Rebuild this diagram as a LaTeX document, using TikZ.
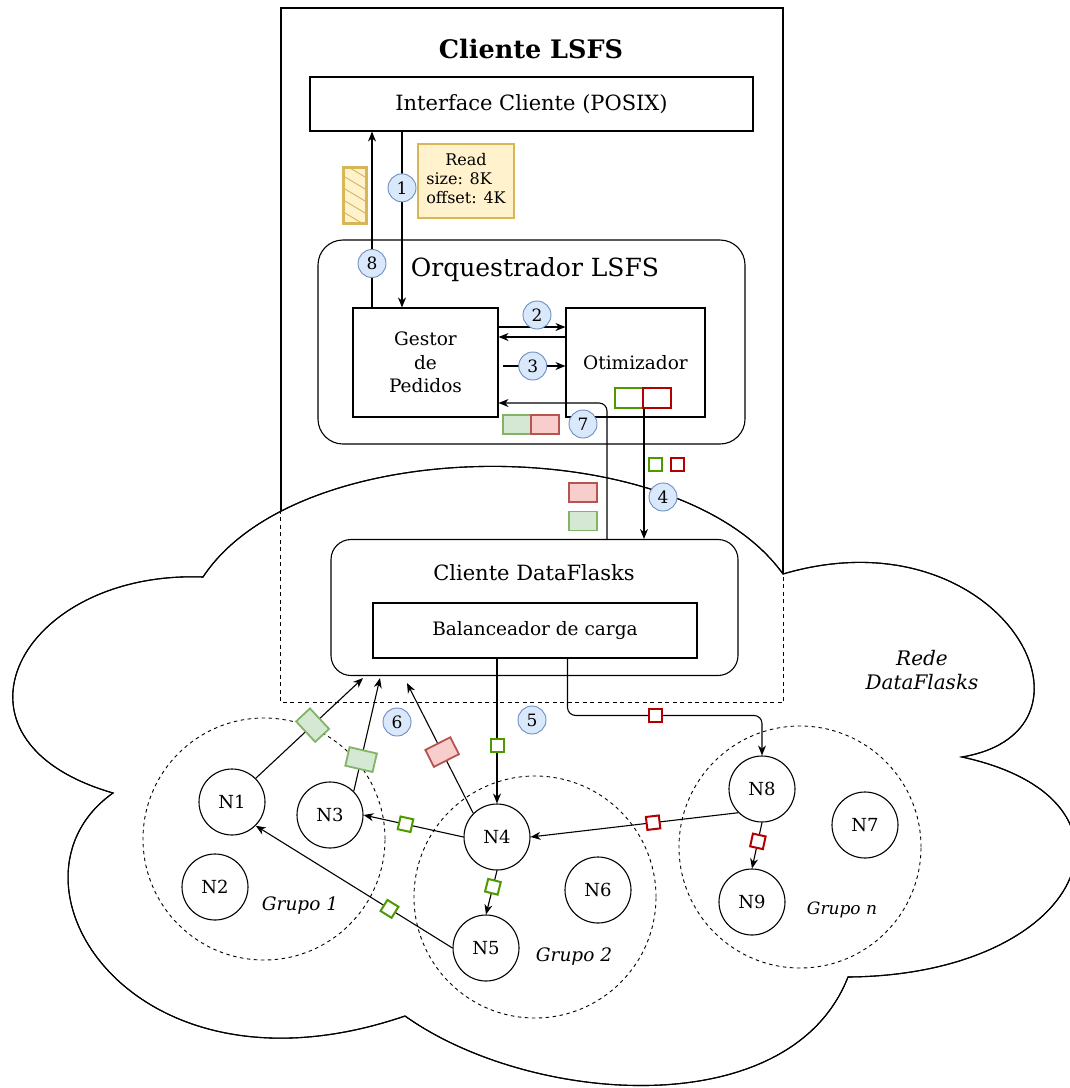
\documentclass[tikz,border=0pt]{standalone}
\usepackage{fontspec}
\setmainfont{DejaVu Serif}
\usetikzlibrary{arrows.meta,calc}

\definecolor{numfill}{HTML}{DAE8FC}
\definecolor{numdraw}{HTML}{6C8EBF}
\definecolor{notefill}{HTML}{FFF2CC}
\definecolor{notedraw}{HTML}{D6B656}
\definecolor{okline}{HTML}{4D9900}
\definecolor{errline}{HTML}{B20000}
\definecolor{okfill}{HTML}{D5E8D4}
\definecolor{okdraw}{HTML}{82B366}
\definecolor{errfill}{HTML}{F8CECC}
\definecolor{errdraw}{HTML}{B85450}

% outline of the DataFlasks network cloud
\def\cloudpath{(783,574) .. controls (680,430) and (300,430) .. (203,577)
  .. controls (20,570) and (-70,740) .. (113,793)
  .. controls (-10,880) and (130,1110) .. (405,1016)
  .. controls (530,1105) and (790,1125) .. (848,977)
  .. controls (1085,975) and (1160,800) .. (962,757)
  .. controls (1120,730) and (1000,510) .. (783,574) -- cycle}

\tikzset{
  box/.style={draw, line width=1.1pt, fill=white, inner sep=0pt},
  txt/.style={inner sep=0pt, font=\fontsize{21}{23.5}\selectfont},
  midtxt/.style={inner sep=0pt, font=\fontsize{18.5}{23.5}\selectfont},
  num/.style={circle, draw=numdraw, fill=numfill, line width=0.9pt, inner sep=0pt,
              minimum size=28pt, font=\fontsize{17}{17}\selectfont},
  pc/.style={circle, draw, line width=1.1pt, fill=white, inner sep=0pt,
             minimum size=66pt, font=\fontsize{18}{18}\selectfont},
  grp/.style={circle, draw, line width=0.9pt, dash pattern=on 3.5pt off 3.5pt,
              inner sep=0pt, minimum size=242pt},
  grplabel/.style={inner sep=0pt, font=\itshape\fontsize{18.5}{18.5}\selectfont},
  okbox/.style={draw=okline, line width=2pt, fill=white, inner sep=0pt, sharp corners,
                minimum width=13pt, minimum height=13pt},
  errbox/.style={draw=errline, line width=2pt, fill=white, inner sep=0pt, sharp corners,
                 minimum width=13pt, minimum height=13pt},
  okchunk/.style={draw=okdraw, fill=okfill, line width=1.8pt, inner sep=0pt, sharp corners,
                  minimum width=28pt, minimum height=19pt},
  errchunk/.style={draw=errdraw, fill=errfill, line width=1.8pt, inner sep=0pt, sharp corners,
                   minimum width=28pt, minimum height=19pt},
  across/.style={minimum width=19pt, minimum height=28pt},
  okbar/.style={draw=okline, line width=2pt, fill=white, inner sep=0pt,
                minimum width=28pt, minimum height=20pt},
  errbar/.style={draw=errline, line width=2pt, fill=white, inner sep=0pt,
                 minimum width=28pt, minimum height=20pt},
  arr/.style={-{Stealth[length=10pt,width=8pt]}, line width=1.1pt}
}

\begin{document}
\begin{tikzpicture}[x=1pt,y=-1pt]
\useasboundingbox (0,0) rectangle (1070,1088);

% outer client frame (solid outside the network cloud, dashed inside it)
\node[draw, line width=1.1pt, inner sep=0pt, minimum width=502pt, minimum height=694pt]
  (lsfs) at (532,355) {};
\draw[line width=1.1pt, fill=white] \cloudpath;
\begin{scope}
  \clip \cloudpath;
  \draw[line width=1.1pt, dash pattern=on 4pt off 3.5pt]
    (lsfs.north west) rectangle (lsfs.south east);
\end{scope}
\draw[line width=1.1pt] \cloudpath;

\node[inner sep=0pt, font=\bfseries\fontsize{25.5}{25.5}\selectfont] (title) at (531,49) {Cliente LSFS};

% POSIX interface
\node[box, minimum width=443pt, minimum height=54pt, txt] (iface) at (531.5,104) {Interface Cliente (POSIX)};

% request note and returned data block
\node[draw=notedraw, fill=notefill, line width=1.2pt, inner sep=0pt,
      minimum width=96pt, minimum height=74pt, font=\fontsize{16}{19}\selectfont]
  (read) at (466,181)
  {\begin{tabular}{@{}l@{}}\multicolumn{1}{@{}c@{}}{Read}\\ size: 8K\\ offset: 4K\end{tabular}};
\node[draw=notedraw, fill=notefill, line width=1.6pt, inner sep=0pt,
      minimum width=22pt, minimum height=55pt] (hatch) at (355,195.5) {};
\begin{scope}
  \clip (hatch.south west) rectangle (hatch.north east);
  \foreach \k in {0,...,7}
    \draw[notedraw, line width=0.9pt] (340,150+\k*12) -- ++(30,18);
\end{scope}
\draw[notedraw, line width=1.6pt] (hatch.south west) rectangle (hatch.north east);

% orchestrator
\node[box, rounded corners=25pt, minimum width=427pt, minimum height=204pt] (orq) at (531.5,342) {};
\node[inner sep=0pt, font=\fontsize{25}{25}\selectfont] (orqlabel) at (535,270) {Orquestrador LSFS};
\node[box, minimum width=145pt, minimum height=109pt, midtxt, align=center] (gestor) at (425.5,362.5) {Gestor\\de\\Pedidos};
\node[box, minimum width=139pt, minimum height=109pt, midtxt] (otim) at (635.5,362.5) {Otimizador};
\node[okbar] (gOpt) at (629,397.5) {};
\node[errbar] (rOpt) at (657,397.5) {};
\node[okchunk] (gRet) at (517,424.5) {};
\node[errchunk] (rRet) at (545,424.5) {};

% DataFlasks client
\node[box, rounded corners=20pt, minimum width=407pt, minimum height=136pt] (cdf) at (534.5,607.5) {};
\node[txt] (cdflabel) at (534,573) {Cliente DataFlasks};
\node[box, minimum width=324pt, minimum height=55pt, midtxt] (bal) at (535,630.5) {Balanceador de carga};

% chunks travelling between client and orchestrator
\node[okbox] (sq4g) at (655,464) {};
\node[errbox] (sq4r) at (677,464) {};
\node[errchunk] (r7) at (583,492.5) {};
\node[okchunk] (g7) at (583,521) {};

% groups
\node[grp] (grp1) at (264,839) {};
\node[grp] (grp2) at (535,897) {};
\node[grp] (grpn) at (800,847) {};
\node[grplabel] (lg1) at (300,906) {Grupo 1};
\node[grplabel] (lg2) at (574,957) {Grupo 2};
\node[grplabel, font=\itshape\fontsize{17}{17}\selectfont] (lgn) at (842,910) {Grupo n};
\node[inner sep=0pt, align=center, font=\itshape\fontsize{20}{24}\selectfont] (rede) at (922,670) {Rede\\DataFlasks};

% storage nodes
\node[pc] (n1) at (232,802) {N1};
\node[pc] (n2) at (215,887) {N2};
\node[pc] (n3) at (330,815) {N3};
\node[pc] (n4) at (497,837) {N4};
\node[pc] (n5) at (486,948) {N5};
\node[pc] (n6) at (598,890) {N6};
\node[pc] (n7) at (865,825) {N7};
\node[pc] (n8) at (762,789) {N8};
\node[pc] (n9) at (752,902) {N9};

% steps 1 and 8: interface <-> request manager
\coordinate (gIn) at ([xshift=-23.5pt]gestor.north);
\coordinate (gOut) at ([xshift=-53.5pt]gestor.north);
\draw[arr] (gIn |- iface.south) -- node[num, pos=0.32] (c1) {1} (gIn);
\draw[arr] (gOut) -- node[num, pos=0.25] (c8) {8} (gOut |- iface.south);

% steps 2 and 3: request manager <-> optimizer
\draw[arr] ([yshift=35.5pt]gestor.east) -- ([yshift=35.5pt]otim.west);
\draw[arr] ([yshift=25.5pt]otim.west) -- ([yshift=25.5pt]gestor.east);
\node[num] (c2) at (537,315) {2};
\draw[arr] ([xshift=4pt,yshift=-3.5pt]gestor.east) -- node[num, pos=0.48] (c3) {3} ([yshift=-3.5pt]otim.west);

% step 4: optimizer -> DataFlasks client
\draw[arr] (gOpt.south east) -- (gOpt.south east |- cdf.north);
\node[num] (c4) at (663,497) {4};

% step 7: DataFlasks client -> request manager
\draw[arr, rounded corners=8pt] ([xshift=72.5pt]cdf.north) |- ([yshift=-40.5pt]gestor.east);
\node[num] (c7) at (583,424) {7};

% step 5: load balancer -> nodes
\draw[arr] (bal.south -| n4) -- node[okbox, pos=0.6] (sq5) {} (n4.north);
\coordinate (n8bend) at ($(n8.north)+(0,-40)$);
\draw[arr, rounded corners=8pt] ([xshift=32.5pt]bal.south) |- node[errbox, pos=0.725] (sq5r) {} (n8bend) -- (n8.north);
\node[num] (c5) at (532,720) {5};

% step 6: replies from the nodes
\draw[arr] (n1.north east) -- node[okchunk, across, sloped, pos=0.53] (k1) {} ([xshift=-171.5pt,yshift=-2pt]cdf.south);
\draw[arr] (n3.north east) -- node[okchunk, across, sloped, pos=0.28] (k2) {} ([xshift=-154.5pt,yshift=-2pt]cdf.south);
\draw[arr] (n4.north west) -- node[errchunk, across, sloped, pos=0.47] (k3) {} ([xshift=-127.5pt,yshift=-7pt]cdf.south);
\node[num] (c6) at (397,722) {6};

% forwarding inside the network
\draw[arr] (n4.west) -- node[okbox, sloped, pos=0.58] (f1) {} (n3.east);
\draw[arr] (n5.west) -- node[okbox, sloped, pos=0.32] (f2) {} (n1.south east);
\draw[arr] (n4.south) -- node[okbox, sloped, pos=0.37] (f3) {} (n5.north);
\draw[arr] (n8.south west) -- node[errbox, sloped, pos=0.41] (f4) {} (n4.east);
\draw[arr] (n8.south) -- node[errbox, sloped, pos=0.41] (f5) {} (n9.north);
\end{tikzpicture}
\end{document}
